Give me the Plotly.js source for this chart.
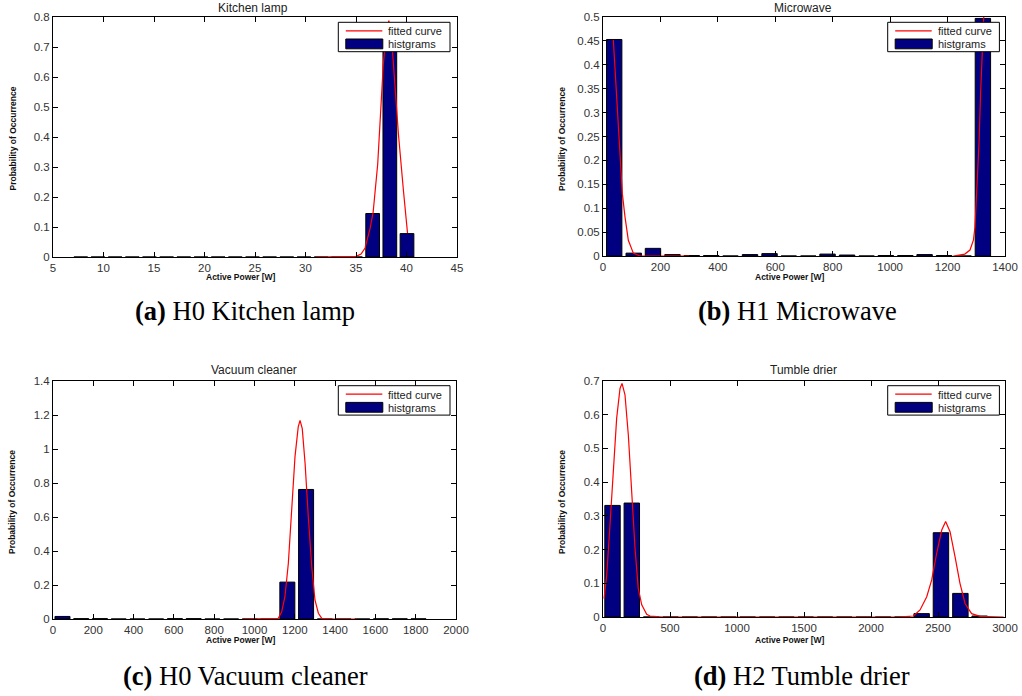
<!DOCTYPE html>
<html>
<head>
<meta charset="utf-8">
<script src="https://cdn.plot.ly/plotly-3.0.1.min.js"></script>
<style>html,body{margin:0;padding:0;background:#fff;}#chart{width:1022px;height:696px;}</style>
</head>
<body>
<div id="chart"></div>
<script>
// ---------- DATA ----------
// (a) H0 Kitchen lamp
const lampBins = [7.75, 9.45, 11.15, 12.85, 14.55, 16.25, 17.95, 19.65, 21.35, 23.05, 24.75, 26.45, 28.15, 29.85, 31.55, 33.25, 34.95, 36.65, 38.35, 40.05];
const lampHist = [0, 0, 0, 0, 0, 0, 0, 0, 0, 0, 0, 0, 0, 0, 0, 0, 0, 0.145, 0.775, 0.078];
const lampCurveX = [31, 33, 35, 35.5, 35.9, 36.4, 36.7, 37.15, 37.5, 37.7, 38.0, 38.25, 38.5, 38.75, 39.0, 39.2, 39.7, 40.1];
const lampCurveY = [0, 0, 0.002, 0.01, 0.03, 0.096, 0.15, 0.31, 0.53, 0.64, 0.75, 0.788, 0.74, 0.62, 0.5, 0.41, 0.22, 0.08];

// (b) H1 Microwave
const microBins = [39, 107, 174, 242, 309, 377, 444, 512, 580, 647, 715, 782, 850, 918, 985, 1053, 1120, 1188, 1256, 1323];
const microHist = [0.453, 0.006, 0.016, 0.003, 0.001, 0.001, 0, 0.003, 0.005, 0, 0, 0.004, 0.002, 0, 0.001, 0.001, 0.003, 0.001, 0, 0.497];
const microCurveLeftX = [36, 47.6, 55.7, 61.5, 67.3, 76.6, 88.2, 105.6, 128.9, 300];
const microCurveLeftY = [0.452, 0.326, 0.236, 0.166, 0.131, 0.082, 0.033, 0.006, 0, 0];
const microCurveRightX = [1220, 1260, 1278, 1290, 1295.5, 1301, 1309.5, 1315, 1321, 1324.5, 1328];
const microCurveRightY = [0, 0.004, 0.0125, 0.033, 0.061, 0.131, 0.236, 0.34, 0.445, 0.494, 0.53];

// (c) H0 Vacuum cleaner
const vacBins = [47, 140, 233, 326, 419, 512, 605, 698, 791, 884, 977, 1070, 1163, 1256, 1349, 1442, 1535, 1628, 1721, 1814];
const vacHist = [0.015, 0.002, 0.002, 0, 0, 0, 0.002, 0.002, 0, 0, 0, 0, 0.217, 0.762, 0, 0, 0, 0.001, 0.001, 0.001];
const vacCurveX = [940, 1050, 1100, 1118, 1135, 1151, 1168, 1185, 1201, 1217, 1226, 1237, 1251, 1267, 1284, 1300, 1317, 1334, 1400, 1510];
const vacCurveY = [0, 0, 0.001, 0.004, 0.043, 0.131, 0.328, 0.641, 0.955, 1.13, 1.168, 1.12, 0.916, 0.602, 0.308, 0.112, 0.034, 0.004, 0, 0];

// (d) H2 Tumble drier
const dryBins = [71, 215, 359, 504, 648, 792, 936, 1080, 1225, 1369, 1513, 1657, 1801, 1946, 2090, 2234, 2378, 2522, 2667, 2811];
const dryHist = [0.331, 0.338, 0, 0, 0, 0, 0, 0, 0, 0, 0, 0, 0, 0, 0, 0, 0.01, 0.25, 0.07, 0.003];
const dryCurveX = [8, 28, 52, 77, 102, 127, 142, 164, 189, 214, 239, 263, 289, 326, 351, 450, 1200, 2200, 2316, 2366, 2416, 2453, 2490, 2528, 2557, 2590, 2627, 2664, 2702, 2751, 2814, 2900, 2990];
const dryCurveY = [0.055, 0.125, 0.273, 0.421, 0.59, 0.678, 0.693, 0.659, 0.54, 0.372, 0.204, 0.085, 0.036, 0.008, 0.003, 0, 0, 0, 0.003, 0.021, 0.06, 0.11, 0.189, 0.258, 0.283, 0.253, 0.179, 0.1, 0.04, 0.01, 0.002, 0, 0];

// tick labels
const lampXTicks = [5, 10, 15, 20, 25, 30, 35, 40, 45];
const lampYTicks = [0, 0.1, 0.2, 0.3, 0.4, 0.5, 0.6, 0.7, 0.8];
const lampYText = ['0', '0.1', '0.2', '0.3', '0.4', '0.5', '0.6', '0.7', '0.8'];
const microXTicks = [0, 200, 400, 600, 800, 1000, 1200, 1400];
const microYTicks = [0, 0.05, 0.1, 0.15, 0.2, 0.25, 0.3, 0.35, 0.4, 0.45, 0.5];
const microYText = ['0', '0.05', '0.1', '0.15', '0.2', '0.25', '0.3', '0.35', '0.4', '0.45', '0.5'];
const vacXTicks = [0, 200, 400, 600, 800, 1000, 1200, 1400, 1600, 1800, 2000];
const vacYTicks = [0, 0.2, 0.4, 0.6, 0.8, 1, 1.2, 1.4];
const vacYText = ['0', '0.2', '0.4', '0.6', '0.8', '1', '1.2', '1.4'];
const dryXTicks = [0, 500, 1000, 1500, 2000, 2500, 3000];
const dryYTicks = [0, 0.1, 0.2, 0.3, 0.4, 0.5, 0.6, 0.7];
const dryYText = ['0', '0.1', '0.2', '0.3', '0.4', '0.5', '0.6', '0.7'];

const panelTitles = ['Kitchen lamp', 'Microwave', 'Vacuum cleaner', 'Tumble drier'];
const captions = ['<b>(a)</b> H0 Kitchen lamp', '<b>(b)</b> H1 Microwave', '<b>(c)</b> H0 Vacuum cleaner', '<b>(d)</b> H2 Tumble drier'];
const xLabel = 'Active Power [W]';
const yLabel = 'Probability of Occurrence';
const legendLabels = ['fitted curve', 'histgrams'];

// ---------- STYLE / LAYOUT ----------
const W = 1022, H = 696;
const PX = x => x / W;
const PY = y => 1 - y / H;
const NAVY = '#000080';
const RED = '#ff0000';
const TICKFONT = {family: 'Liberation Sans, Arial, sans-serif', size: 11.5, color: '#333'};

function barTrace(x, y, xa, ya) {
  return {type: 'bar', x: x, y: y, xaxis: xa, yaxis: ya, showlegend: false,
    marker: {color: NAVY, line: {color: '#000', width: 1}}, hoverinfo: 'skip'};
}
function lineTrace(x, y, xa, ya) {
  return {type: 'scatter', mode: 'lines', x: x, y: y, xaxis: xa, yaxis: ya, showlegend: false,
    line: {color: RED, width: 1.2}, hoverinfo: 'skip'};
}

const traces = [
  barTrace(lampBins, lampHist, 'x', 'y'),
  lineTrace(lampCurveX, lampCurveY, 'x', 'y'),
  barTrace(microBins, microHist, 'x2', 'y2'),
  lineTrace(microCurveLeftX, microCurveLeftY, 'x2', 'y2'),
  lineTrace(microCurveRightX, microCurveRightY, 'x2', 'y2'),
  barTrace(vacBins, vacHist, 'x3', 'y3'),
  lineTrace(vacCurveX, vacCurveY, 'x3', 'y3'),
  barTrace(dryBins, dryHist, 'x4', 'y4'),
  lineTrace(dryCurveX, dryCurveY, 'x4', 'y4')
];

// panel pixel boxes [left, top, right, bottom]
const boxes = [[53, 17, 457, 257], [603, 17, 1005, 256], [53, 381, 456, 619], [603, 381, 1005, 617]];

function axis(box, isX, anchor, range, vals, text) {
  const a = {
    domain: isX ? [PX(box[0]), PX(box[2])] : [PY(box[3]), PY(box[1])],
    anchor: anchor, range: range, tickmode: 'array', tickvals: vals,
    ticks: 'inside', ticklen: 5, tickwidth: 1, tickcolor: '#000',
    showline: true, linecolor: '#000', linewidth: 1, mirror: 'ticks',
    showgrid: false, zeroline: false, tickfont: TICKFONT, fixedrange: true
  };
  if (text) a.ticktext = text;
  return a;
}

const layout = {
  width: W, height: H, margin: {l: 0, r: 0, t: 0, b: 0},
  paper_bgcolor: '#fff', plot_bgcolor: '#fff', bargap: 0.2, showlegend: false,
  xaxis: axis(boxes[0], true, 'y', [5, 45], lampXTicks),
  yaxis: axis(boxes[0], false, 'x', [0, 0.8], lampYTicks, lampYText),
  xaxis2: axis(boxes[1], true, 'y2', [0, 1400], microXTicks),
  yaxis2: axis(boxes[1], false, 'x2', [0, 0.5], microYTicks, microYText),
  xaxis3: axis(boxes[2], true, 'y3', [0, 2000], vacXTicks),
  yaxis3: axis(boxes[2], false, 'x3', [0, 1.4], vacYTicks, vacYText),
  xaxis4: axis(boxes[3], true, 'y4', [0, 3000], dryXTicks),
  yaxis4: axis(boxes[3], false, 'x4', [0, 0.7], dryYTicks, dryYText),
  shapes: [], annotations: []
};

function ann(text, x, y, font, opts) {
  return Object.assign({text: text, x: PX(x), y: PY(y), xref: 'paper', yref: 'paper',
    showarrow: false, xanchor: 'center', yanchor: 'middle', font: font}, opts || {});
}

const titleFont = {family: 'Liberation Sans, Arial, sans-serif', size: 12, color: '#222'};
const labelFont = {family: 'Liberation Sans, Arial, sans-serif', size: 8.5, color: '#111'};
const capFont = {family: 'Liberation Serif, Times New Roman, serif', size: 26.5, color: '#000'};
const legFont = {family: 'Liberation Sans, Arial, sans-serif', size: 11, color: '#222'};

const titlePos = [[253, 8], [803, 8], [254, 370], [803, 370]];
const xlabPos = [[240.5, 277], [790, 277], [240.5, 640], [790, 640]];
const ylabPos = [[12, 138.5], [562, 139], [12, 502], [562, 502]];
const capPos = [[245, 311], [797, 311], [245, 676], [802, 676]];
const legPos = [[338.3, 22.3], [887.7, 22.3], [338.3, 385.7], [887.7, 385.7]];

for (let i = 0; i < 4; i++) {
  layout.annotations.push(ann(panelTitles[i], titlePos[i][0], titlePos[i][1], titleFont));
  layout.annotations.push(ann('<b>' + xLabel + '</b>', xlabPos[i][0], xlabPos[i][1], labelFont));
  layout.annotations.push(ann('<b>' + yLabel + '</b>', ylabPos[i][0], ylabPos[i][1], labelFont, {textangle: -90}));
  layout.annotations.push(ann(captions[i], capPos[i][0], capPos[i][1], capFont));
  // legend box
  const lx = legPos[i][0], ly = legPos[i][1];
  layout.shapes.push({type: 'rect', xref: 'paper', yref: 'paper', layer: 'above',
    x0: PX(lx), x1: PX(lx + 111.7), y0: PY(ly + 29.4), y1: PY(ly),
    fillcolor: '#fff', line: {color: '#000', width: 1}});
  layout.shapes.push({type: 'line', xref: 'paper', yref: 'paper', layer: 'above',
    x0: PX(lx + 7.5), x1: PX(lx + 44), y0: PY(ly + 8.5), y1: PY(ly + 8.5),
    line: {color: RED, width: 1.2}});
  layout.shapes.push({type: 'rect', xref: 'paper', yref: 'paper', layer: 'above',
    x0: PX(lx + 7.5), x1: PX(lx + 44.5), y0: PY(ly + 26.5), y1: PY(ly + 16.7),
    fillcolor: NAVY, line: {color: '#000', width: 1}});
  layout.annotations.push(ann(legendLabels[0], lx + 48, ly + 9, legFont, {xanchor: 'left'}));
  layout.annotations.push(ann(legendLabels[1], lx + 48, ly + 22, legFont, {xanchor: 'left'}));
}

Plotly.newPlot('chart', traces, layout, {staticPlot: true, displayModeBar: false});
</script>
</body>
</html>
